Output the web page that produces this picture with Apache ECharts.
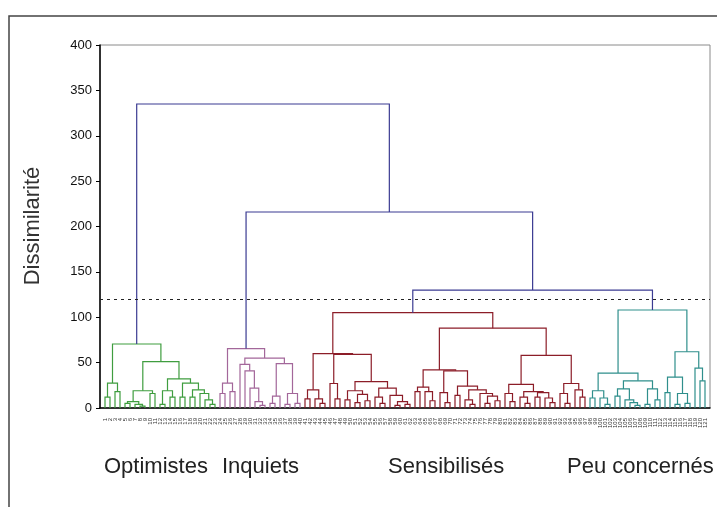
<!DOCTYPE html>
<html>
<head>
<meta charset="utf-8">
<script src="https://cdn.jsdelivr.net/npm/echarts@6/dist/echarts.min.js"></script>
<style>
  html, body { margin: 0; padding: 0; background: #fff; }
  #main { width: 717px; height: 507px; }
</style>
</head>
<body>
<div id="main"></div>
<script type="text/javascript">
// tree nodes: [height, left, right], 0 = one observation (leaf)
var optimistes = [70.5,
  [27.5, [12, 0, 0], [18, 0, 0]],
  [51,
    [19, [7, [5, 0, 0], [4, 0, [2, 0, 0]]], [16, 0, 0]],
    [32, [19, [4, 0, 0], [12, 0, 0]],
         [27.5, [12, 0, 0], [20, [12, 0, 0], [16, 0, [9, 0, [4, 0, 0]]]]]]]];

var inquiets = [65.5,
  [27.5, [16, 0, 0], [18, 0, 0]],
  [55,
    [48, 0, [41, 0, [22, 0, [7, 0, [3, 0, 0]]]]],
    [49, [13, [5, 0, 0], 0], [16, [4, 0, 0], [5, 0, 0]]]]];

var sensibilises = [105,
  [60,
    [20, [10, 0, 0], [10, 0, [5, 0, 0]]],
    [59,
      [27, 0, [10, 0, 0]],
      [29, [19, [9, 0, 0], [15, [6, 0, 0], [8, 0, 0]]],
           [22, [12, 0, [5, 0, 0]], [14, 0, [7, [3, 0, 0], [4, 0, 0]]]]]]],
  [88,
    [42,
      [23, [18, 0, 0], [18, 0, [8, 0, 0]]],
      [41, [17, 0, [6, 0, 0]],
           [24, [14, 0, 0], [20, [9, 0, [4, 0, 0]], [16, 0, [13, [5, 0, 0], [8, 0, 0]]]]]]],
    [58,
      [26, [16, 0, [7, 0, 0]], [18, [12, 0, [5, 0, 0]], [17, [12, 0, 0], [11, 0, [6, 0, 0]]]]],
      [27, [16, 0, [5, 0, 0]], [20, 0, [12, 0, 0]]]]]];

var peuConcernes = [108,
  [38.5,
    [19, [11, 0, 0], [11, 0, [4, 0, 0]]],
    [30, [21, [13, 0, 0], [9, 0, [6, 0, [3, 0, 0]]]], [21, [4, 0, 0], [9, 0, 0]]]],
  [62,
    [34, [17, 0, 0], [16, [4, 0, 0], [5, 0, 0]]],
    [44, 0, [30, 0, 0]]]];

// merges above the cut: (Sensibilisés+Peu concernés), +Inquiets, +Optimistes
var upperHeights = [130, 216, 335];
var cutHeight = 120;
var clusterNames = ['Optimistes', 'Inquiets', 'Sensibilisés', 'Peu concernés'];
var yTicks = [0, 50, 100, 150, 200, 250, 300, 350, 400];

var clusterColors = ['#3f9d3f', '#a3679a', '#8c1d28', '#2f8f8c'];
var upperColor = '#3b3b92';

var segments = [];
var leafCount = 0;

function walk(node, c) {
  if (!Array.isArray(node)) {
    return { x: leafCount++, h: 0 };
  }
  var l = walk(node[1], c);
  var r = walk(node[2], c);
  return join(l, r, node[0], c);
}

function join(l, r, h, c) {
  segments.push([l.x, l.h, r.x, r.h, h, c]);
  return { x: (l.x + r.x) / 2, h: h };
}

var o = walk(optimistes, 0);
var q = walk(inquiets, 1);
var s = walk(sensibilises, 2);
var p = walk(peuConcernes, 3);
var n1 = join(s, p, upperHeights[0], 4);
var n2 = join(q, n1, upperHeights[1], 4);
join(o, n2, upperHeights[2], 4);

var myChart = echarts.init(document.getElementById('main'), null, { renderer: 'canvas' });

var font = 'Liberation Sans, Arial, sans-serif';

var option = {
  backgroundColor: '#fff',
  animation: false,
  textStyle: { fontFamily: font },
  grid: {
    left: 100, right: 7, top: 45, bottom: 99,
    show: true, borderColor: '#8a8a8a', borderWidth: 1
  },
  xAxis: {
    type: 'value',
    min: -1,
    max: leafCount,
    interval: 1,
    axisLine: { onZero: false, lineStyle: { color: '#000', width: 1.5 } },
    axisTick: { show: false },
    splitLine: { show: false },
    axisLabel: {
      rotate: 90,
      fontSize: 6,
      color: '#333',
      margin: 10,
      formatter: function (v) {
        return (v >= 0 && v < leafCount) ? String(v + 1) : '';
      }
    }
  },
  yAxis: {
    type: 'value',
    min: yTicks[0],
    max: yTicks[yTicks.length - 1],
    interval: 50,
    axisLine: { show: true, onZero: false, lineStyle: { color: '#000', width: 1.5 } },
    axisTick: { show: true, length: 4, lineStyle: { color: '#000' } },
    splitLine: { show: false },
    axisLabel: { fontSize: 13, color: '#111', margin: 8 }
  },
  series: [{
    type: 'custom',
    data: segments,
    clip: false,
    renderItem: function (params, api) {
      var a = api.coord([api.value(0), api.value(1)]);
      var b = api.coord([api.value(0), api.value(4)]);
      var c = api.coord([api.value(2), api.value(4)]);
      var d = api.coord([api.value(2), api.value(3)]);
      var ci = api.value(5);
      return {
        type: 'polyline',
        shape: { points: [a, b, c, d] },
        style: {
          stroke: ci === 4 ? upperColor : clusterColors[ci],
          lineWidth: 1.2,
          fill: null
        }
      };
    },
    markLine: {
      silent: true,
      symbol: ['none', 'none'],
      label: { show: false },
      lineStyle: { color: '#222', type: [3, 4], width: 1.2 },
      data: [{ yAxis: cutHeight }]
    }
  }],
  graphic: [
    {
      type: 'rect', silent: true,
      shape: { x: 9, y: 16, width: 800, height: 600 },
      style: { fill: null, stroke: '#444', lineWidth: 1.5 }
    },
    {
      type: 'text', x: 33, y: 226, rotation: Math.PI / 2,
      style: {
        text: 'Dissimilarité', fontSize: 22, fill: '#333',
        align: 'center', verticalAlign: 'middle', fontFamily: font
      }
    },
    {
      type: 'text', x: 104, y: 467,
      style: { text: clusterNames[0], fontSize: 22, fill: '#222', verticalAlign: 'middle', fontFamily: font }
    },
    {
      type: 'text', x: 222, y: 467,
      style: { text: clusterNames[1], fontSize: 22, fill: '#222', verticalAlign: 'middle', fontFamily: font }
    },
    {
      type: 'text', x: 388, y: 467,
      style: { text: clusterNames[2], fontSize: 22, fill: '#222', verticalAlign: 'middle', fontFamily: font }
    },
    {
      type: 'text', x: 567, y: 467,
      style: { text: clusterNames[3], fontSize: 22, fill: '#222', verticalAlign: 'middle', fontFamily: font }
    }
  ]
};

myChart.setOption(option);
</script>
</body>
</html>
